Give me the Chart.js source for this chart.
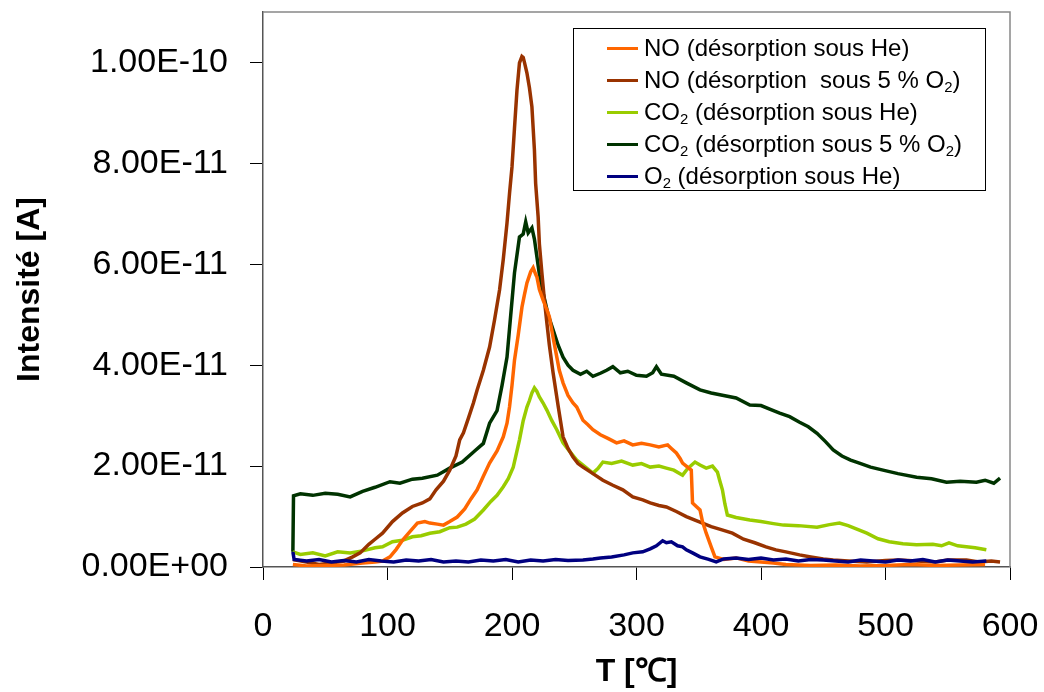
<!DOCTYPE html>
<html>
<head>
    <meta charset="utf-8">
    <script src="https://cdn.jsdelivr.net/npm/chart.js@4/dist/chart.umd.min.js"></script>
    <style>
        body { margin: 0; background: #fff; }
        #wrap { position: relative; width: 1044px; height: 692px; }
        #legend {
            position: absolute; left: 573px; top: 28px; width: 413px; height: 163px;
            border: 1px solid #000; background: #fff; box-sizing: border-box;
            padding-top: 3px; font-family: 'Liberation Sans', Arial, sans-serif; font-size: 24px; color: #000;
        }
        #legend .row { height: 32px; line-height: 32px; white-space: pre; position: relative; padding-left: 70px; }
        #legend .swatch { position: absolute; left: 33px; top: 15px; width: 31px; height: 3px; }
        #legend sub { font-size: 0.62em; vertical-align: -0.3em; line-height: 0; }
    </style>
</head>
<body>
<div id="wrap">
    <canvas id="myChart" width="1044" height="692"></canvas>
    <div id="legend"></div>
</div>

<script>
    // intensities are in units of 1E-11 A
    const UNIT = 1e-11;

    const labels = [
        'NO (désorption sous He)',
        'NO (désorption  sous 5 % O₂)',
        'CO₂ (désorption sous He)',
        'CO₂ (désorption sous 5 % O₂)',
        'O₂ (désorption sous He)'
    ];
    const colors = ['#FF6600', '#993300', '#99CC00', '#003300', '#000080'];

    // NO, desorption under He
    const tNoHe = [24, 35, 50, 65, 80, 90, 96, 102, 107, 112, 118, 124, 130, 134, 140, 145, 150, 156, 162, 167, 172, 177, 182, 188, 193, 196, 198, 200, 202, 205, 208, 210, 212, 215, 217, 219, 220, 222, 225, 228, 230, 233, 236, 238, 241, 245, 249, 252, 257, 261, 265, 271, 277, 284, 290, 297, 304, 311, 318, 325, 328, 332, 335, 337, 341, 344, 345, 348, 351, 353, 356, 360, 363, 370, 380, 390, 400, 410, 420, 440, 460, 480, 500, 520, 540, 560, 580];
    const noHe = [0.05, 0.02, 0.03, 0.04, 0.08, 0.1, 0.12, 0.2, 0.35, 0.53, 0.7, 0.87, 0.9, 0.87, 0.85, 0.83, 0.9, 0.99, 1.15, 1.35, 1.53, 1.8, 2.06, 2.3, 2.58, 2.85, 3.17, 3.6, 4.1, 4.6, 5.15, 5.4, 5.63, 5.85, 5.93, 5.8, 5.75, 5.5, 5.29, 5.1, 4.96, 4.55, 4.16, 3.9, 3.65, 3.4, 3.25, 3.17, 2.91, 2.82, 2.72, 2.62, 2.55, 2.46, 2.5, 2.42, 2.45, 2.42, 2.38, 2.42, 2.35, 2.26, 2.15, 2.06, 1.98, 1.92, 1.27, 1.2, 1.13, 0.9, 0.67, 0.4, 0.2, 0.15, 0.18, 0.12, 0.1, 0.08, 0.05, 0.03, 0.04, 0.02, 0.03, 0.05, 0.03, 0.04, 0.05];

    // NO, desorption under 5 % O2
    const tNoO2 = [24, 35, 45, 55, 65, 72, 78, 85, 90, 96, 104, 112, 120, 128, 134, 139, 145, 150, 155, 158, 161, 165, 169, 172, 177, 182, 186, 190, 193, 196, 198, 200, 202, 204, 206, 208, 209, 210, 212, 214, 216, 218, 219, 221, 222, 224, 226, 228, 230, 233, 237, 241, 245, 249, 253, 257, 265, 273, 281, 289, 297, 305, 311, 318, 324, 332, 340, 351, 360, 368, 377, 386, 395, 404, 412, 420, 431, 440, 450, 458, 470, 485, 500, 511, 525, 540, 550, 565, 575, 585, 592];
    const noO2 = [0.15, 0.1, 0.05, 0.08, 0.12, 0.2, 0.28, 0.45, 0.55, 0.67, 0.9, 1.07, 1.2, 1.27, 1.35, 1.53, 1.7, 1.92, 2.2, 2.52, 2.66, 2.95, 3.25, 3.51, 3.9, 4.36, 4.9, 5.49, 6.1, 6.82, 7.4, 7.93, 8.7, 9.45, 9.99, 10.12, 10.1, 10.0, 9.79, 9.5, 9.12, 8.27, 7.6, 6.94, 6.4, 5.83, 5.3, 4.84, 4.4, 3.85, 3.2, 2.58, 2.35, 2.18, 2.05, 1.98, 1.85, 1.72, 1.62, 1.53, 1.39, 1.33, 1.27, 1.22, 1.19, 1.1, 1.0, 0.89, 0.8, 0.74, 0.67, 0.55, 0.48, 0.4, 0.34, 0.3, 0.24, 0.2, 0.16, 0.14, 0.12, 0.1, 0.13, 0.14, 0.12, 0.1, 0.14, 0.14, 0.1, 0.12, 0.1];

    // CO2, desorption under He
    const tCo2He = [24, 30, 40, 50, 60, 70, 80, 90, 96, 104, 112, 120, 127, 134, 142, 150, 156, 163, 170, 177, 183, 188, 193, 197, 201, 204, 206, 209, 212, 214, 216, 218, 220, 222, 225, 228, 232, 236, 241, 246, 252, 258, 265, 269, 273, 280, 288, 297, 304, 311, 318, 324, 330, 337, 341, 347, 351, 356, 361, 365, 367, 369, 371, 373, 380, 391, 400, 410, 418, 430, 445, 455, 463, 470, 478, 485, 494, 503, 514, 525, 538, 545, 551, 558, 565, 572, 581];
    const co2He = [0.3, 0.25, 0.28, 0.22, 0.3, 0.28, 0.32, 0.38, 0.4, 0.5, 0.53, 0.6, 0.62, 0.67, 0.7, 0.78, 0.79, 0.85, 0.95, 1.13, 1.3, 1.42, 1.59, 1.75, 1.98, 2.3, 2.52, 2.9, 3.17, 3.3, 3.45, 3.55, 3.48, 3.37, 3.25, 3.11, 2.9, 2.72, 2.46, 2.3, 2.12, 2.0, 1.86, 1.95, 2.08, 2.05, 2.1, 2.02, 2.05, 1.98, 2.0, 1.96, 1.92, 1.82, 1.95, 2.08, 2.02, 1.96, 2.0, 1.88, 1.7, 1.53, 1.25, 1.03, 0.98, 0.93, 0.9, 0.86, 0.83, 0.82, 0.79, 0.84, 0.87, 0.82, 0.74, 0.67, 0.56, 0.5, 0.46, 0.44, 0.45, 0.42, 0.48, 0.42, 0.4, 0.38, 0.34];

    // CO2, desorption under 5 % O2
    const tCo2O2 = [24, 24.5, 30, 40, 50, 60, 70, 80, 90, 102, 110, 120, 128, 140, 150, 160, 170, 177, 182, 188, 192, 196, 199, 202, 206, 209, 211, 213, 216, 218, 220, 222, 225, 229, 233, 237, 241, 245, 249, 255, 260, 265, 271, 276, 281, 287, 293, 300, 308, 313, 316, 320, 330, 340, 351, 360, 370, 380, 391, 400, 408, 415, 423, 431, 438, 445, 452, 458, 465, 472, 479, 488, 498, 510, 525, 537, 549, 560, 573, 580, 587, 592];
    const co2O2 = [0.3, 1.41, 1.45, 1.42, 1.46, 1.44, 1.39, 1.5, 1.58, 1.69, 1.66, 1.74, 1.76, 1.82, 1.96, 2.08, 2.3, 2.45, 2.85, 3.1, 3.6, 4.16, 5.0, 5.83, 6.54, 6.6, 6.84, 6.62, 6.72, 6.5, 6.15, 5.8, 5.43, 5.0, 4.7, 4.4, 4.16, 4.0, 3.9, 3.82, 3.88, 3.78, 3.84, 3.9, 3.97, 3.85, 3.88, 3.8, 3.78, 3.85, 3.97, 3.82, 3.78, 3.65, 3.51, 3.45, 3.4, 3.35, 3.21, 3.2, 3.12, 3.05, 2.98, 2.87, 2.78, 2.65, 2.48, 2.32, 2.2, 2.12, 2.06, 1.98, 1.92, 1.85, 1.78, 1.75, 1.68, 1.7, 1.68, 1.72, 1.66, 1.76];

    // O2, desorption under He
    const tO2He = [24, 25, 35, 45, 55, 65, 75, 85, 95, 105, 115, 125, 135, 145, 155, 165, 175, 185, 195, 205, 215, 225, 235, 245, 257, 265, 271, 280, 290, 297, 305, 311, 316, 321, 324, 328, 333, 337, 340, 345, 351, 358, 364, 370, 380, 390, 400, 410, 420, 430, 440, 450, 460, 470, 480, 490, 500, 510, 520, 530, 540, 550, 560, 570, 581];
    const o2He = [0.3, 0.15, 0.12, 0.15, 0.1, 0.13, 0.1, 0.15, 0.12, 0.1, 0.14, 0.12, 0.15, 0.1, 0.12, 0.1, 0.14, 0.12, 0.15, 0.1, 0.14, 0.12, 0.15, 0.13, 0.14, 0.16, 0.18, 0.2, 0.24, 0.28, 0.3, 0.36, 0.42, 0.52, 0.48, 0.5, 0.42, 0.4, 0.34, 0.28, 0.2, 0.15, 0.1, 0.16, 0.18, 0.15, 0.18, 0.14, 0.16, 0.12, 0.15, 0.14, 0.12, 0.1, 0.14, 0.12, 0.1, 0.14, 0.12, 0.15, 0.1, 0.14, 0.12, 0.1, 0.12];

    const xTicks = [0, 100, 200, 300, 400, 500, 600];

    const series = [[tNoHe, noHe], [tNoO2, noO2], [tCo2He, co2He], [tCo2O2, co2O2], [tO2He, o2He]];

    function sci(v) {
        if (v === 0) return '0.00E+00';
        let e = Math.floor(Math.log10(Math.abs(v)) + 1e-9);
        let m = v / Math.pow(10, e);
        const es = (e < 0 ? '-' : '+') + String(Math.abs(e)).padStart(2, '0');
        return m.toFixed(2) + 'E' + es;
    }

    const frame = {
        id: 'frame',
        afterDatasetsDraw(chart) {
            const a = chart.chartArea, ctx = chart.ctx;
            ctx.save();
            ctx.strokeStyle = '#888';
            ctx.lineWidth = 1.5;
            ctx.beginPath();
            ctx.moveTo(a.left, a.top);
            ctx.lineTo(a.right, a.top);
            ctx.lineTo(a.right, a.bottom);
            ctx.stroke();
            ctx.restore();
        }
    };

    const font = 'Liberation Sans, Arial, sans-serif';

    const chart = new Chart(document.getElementById('myChart'), {
        type: 'line',
        data: {
            datasets: series.map((s, i) => ({
                label: labels[i],
                data: s[0].map((t, j) => ({x: t, y: s[1][j]})),
                borderColor: colors[i],
                backgroundColor: colors[i],
                borderWidth: 3.5,
                pointRadius: 0,
                tension: 0,
                fill: false,
                order: i === 4 ? 0 : 1
            }))
        },
        options: {
            responsive: false,
            animation: false,
            layout: {padding: {top: 12, right: 34, left: 0, bottom: 0}},
            plugins: {legend: {display: false}, tooltip: {enabled: false}},
            scales: {
                x: {
                    type: 'linear', min: 0, max: 600,
                    afterFit: (s) => { s.height = 125; s.paddingLeft = 0; s.paddingRight = 0; },
                    afterBuildTicks: (s) => { s.ticks = xTicks.map(v => ({value: v})); },
                    grid: {drawOnChartArea: false, tickLength: 13, color: '#000'},
                    border: {color: '#555', width: 1.5},
                    ticks: {color: '#000', padding: 26, maxRotation: 0, font: {family: font, size: 34}},
                    title: {display: true, text: 'T [℃]', color: '#000', padding: {top: 0, bottom: 1},
                        font: {family: font, size: 32, weight: 'bold'}}
                },
                y: {
                    min: 0, max: 11,
                    afterFit: (s) => { s.width = 263; s.paddingTop = 0; s.paddingBottom = 0; },
                    grid: {drawOnChartArea: false, tickLength: 13, color: '#000'},
                    border: {color: '#555', width: 1.5},
                    ticks: {stepSize: 2, includeBounds: false, color: '#000', padding: 22,
                        font: {family: font, size: 34}, callback: (v) => sci(v * UNIT)},
                    title: {display: true, text: 'Intensité [A]', color: '#000', padding: {top: 11, bottom: 0},
                        font: {family: font, size: 32, weight: 'bold'}}
                }
            }
        },
        plugins: [frame]
    });

    // html legend built from the chart's datasets
    const leg = document.getElementById('legend');
    chart.data.datasets.forEach(ds => {
        const row = document.createElement('div');
        row.className = 'row';
        const sw = document.createElement('span');
        sw.className = 'swatch';
        sw.style.background = ds.borderColor;
        row.appendChild(sw);
        row.insertAdjacentHTML('beforeend', ds.label.replace(/₂/g, '<sub>2</sub>'));
        leg.appendChild(row);
    });
</script>
</body>
</html>
